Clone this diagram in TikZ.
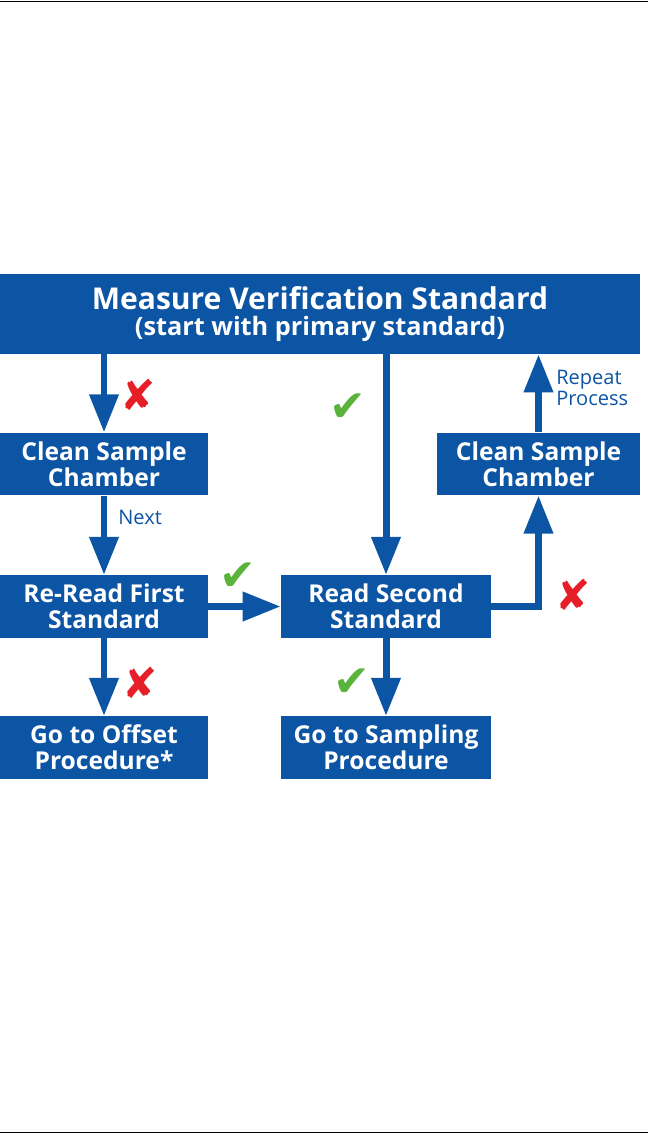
\documentclass[tikz,border=0pt]{standalone}
\usepackage{fontspec}
\setmainfont{Open Sans}
\newfontfamily\marksfont{DejaVu Sans}
\usepackage{xcolor}
\usetikzlibrary{arrows.meta, positioning, calc}
\definecolor{flowblue}{RGB}{12,84,164}
\definecolor{nored}{RGB}{230,30,40}
\definecolor{okgreen}{RGB}{90,180,60}
\tikzset{
    box/.style={rectangle, fill=flowblue, text=white, inner sep=0pt, align=center,
        minimum height=1.25cm, font=\bfseries\fontsize{14}{14.8}\selectfont},
    flow/.style={draw=flowblue, line width=0.14cm, -{Triangle[width=0.56cm,length=0.76cm]}},
    nomark/.style={text=nored, font=\marksfont\fontsize{24}{24}\selectfont},
    okmark/.style={text=okgreen, font=\marksfont\fontsize{25}{25}\selectfont},
    note/.style={text=flowblue, inner sep=0pt, align=left, font=\fontsize{11.4}{12}\selectfont}
}

\begin{document}
\begin{tikzpicture}[x=0.02cm, y=-0.02cm]
    % Bordi
    \useasboundingbox (0,0) rectangle (648,1134);
    \draw[line width=0.8pt] (0,1.5) -- (648,1.5);
    \draw[line width=0.8pt] (0,1132.5) -- (648,1132.5);

    % Blocchi
    \node[box, minimum width=12.8cm, minimum height=1.6cm] (measure) at (320,314)
        {\fontsize{17.1}{18}\selectfont Measure Verification Standard\\
         \fontsize{14.4}{19.5}\selectfont (start with primary standard)};
    \node[box, minimum width=4.16cm] (cleanL) at (104,464) {Clean Sample\\Chamber};
    \node[box, minimum width=4.16cm] (reread) at (104,606.5) {Re-Read First\\Standard};
    \node[box, minimum width=4.16cm] (offset) at (104,747.5) {Go to Offset\\Procedure*};
    \node[box, minimum width=4.2cm] (second) at (386,606.5) {Read Second\\Standard};
    \node[box, minimum width=4.2cm] (sampling) at (386,747.5) {Go to Sampling\\Procedure};
    \node[box, minimum width=4.06cm] (cleanR) at (538.5,464) {Clean Sample\\Chamber};

    % Frecce
    \draw[flow] (cleanL.north |- measure.south) -- (cleanL.north);
    \draw[flow] (cleanL.south) -- (reread.north);
    \draw[flow] (reread.south) -- (offset.north);
    \draw[flow] (reread.east) -- (second.west);
    \draw[flow] (second.north |- measure.south) -- (second.north);
    \draw[flow] (second.south) -- (sampling.north);
    \draw[flow] (second.east) -| (cleanR.south);
    \draw[flow] (cleanR.north) -- (cleanR.north |- measure.south);

    % Etichette
    \node[note, anchor=west] (next) at (118,517) {Next};
    \node[note, anchor=west] (repeat) at (556,388) {Repeat\\Process};

    % Segni
    \node[nomark] (noA) at (138,395) {✘};
    \node[okmark] (okA) at (348,408) {✔};
    \node[okmark] (okB) at (238,577) {✔};
    \node[nomark] (noB) at (573,595) {✘};
    \node[nomark] (noC) at (140,683) {✘};
    \node[okmark] (okC) at (352,683) {✔};
\end{tikzpicture}
\end{document}
